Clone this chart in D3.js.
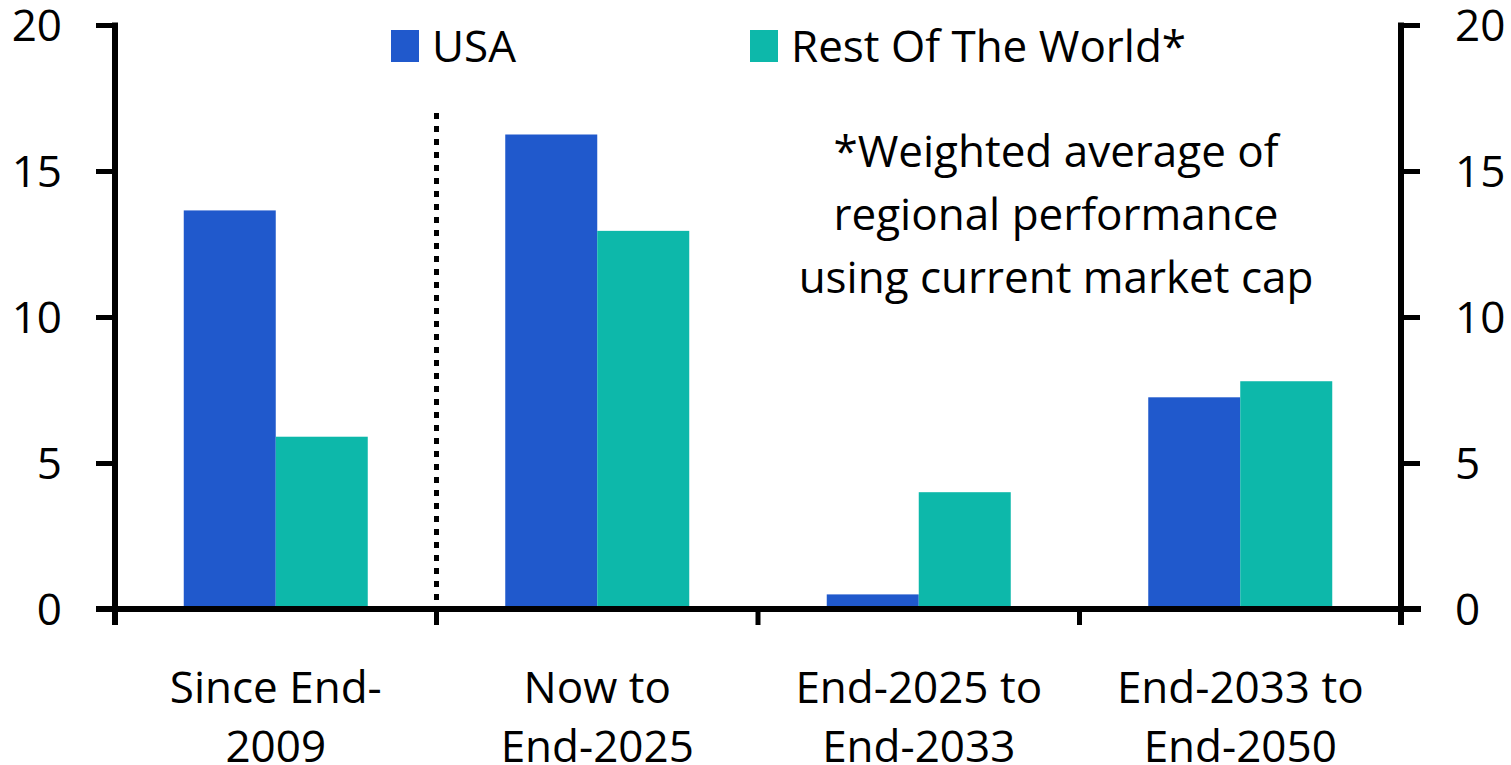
<!DOCTYPE html>
<html>
<head>
<meta charset="utf-8">
<script src="https://cdn.jsdelivr.net/npm/d3@7"></script>
<style>
  html, body { margin: 0; padding: 0; background: #fff; }
  svg { display: block; }
  text { font-family: "Open Sans", "Noto Sans", sans-serif; fill: #000; }
</style>
</head>
<body>
<svg id="chart" width="1511" height="765"></svg>
<script>
// Annualised returns by period, % per year
const categories = [
  ["Since End-", "2009"],
  ["Now to", "End-2025"],
  ["End-2025 to", "End-2033"],
  ["End-2033 to", "End-2050"]
];
const seriesNames = ["USA", "Rest Of The World*"];
const usaValues = [13.65, 16.25, 0.5, 7.25];
const rowValues = [5.9, 12.95, 4.0, 7.8];
const yTicks = [0, 5, 10, 15, 20];
const noteLines = ["*Weighted average of", "regional performance", "using current market cap"];

const colors = ["#2059CC", "#0DB8AA"];
const fontSize = 44;

const svg = d3.select("#chart");
const plotLeft = 115, plotRight = 1401, plotTop = 25, plotBottom = 609;

const x = d3.scaleBand().domain(d3.range(categories.length)).range([plotLeft, plotRight]).paddingInner(0).paddingOuter(0);
const y = d3.scaleLinear().domain([0, 20]).range([plotBottom, plotTop]);
const barW = 92;

const rows = categories.map((c, i) => ({ i, values: [usaValues[i], rowValues[i]] }));

// bars
const g = svg.append("g");
rows.forEach(r => {
  const cx = x(r.i) + x.bandwidth() / 2;
  r.values.forEach((v, k) => {
    g.append("rect")
      .attr("x", cx - barW + k * barW)
      .attr("y", y(v))
      .attr("width", barW)
      .attr("height", y(0) - y(v))
      .attr("fill", colors[k]);
  });
});

// dotted divider between history and projections
svg.append("line")
  .attr("x1", x(1)).attr("x2", x(1))
  .attr("y1", 113).attr("y2", y(0))
  .attr("stroke", "#000").attr("stroke-width", 5)
  .attr("stroke-dasharray", "6 7");

// left axis
const yAxisL = svg.append("g").attr("transform", `translate(${plotLeft},0)`)
  .call(d3.axisLeft(y).tickValues(yTicks).tickSize(19).tickPadding(0).tickFormat(d3.format("d")));
// right axis
const yAxisR = svg.append("g").attr("transform", `translate(${plotRight},0)`)
  .call(d3.axisRight(y).tickValues(yTicks).tickSize(19).tickPadding(0).tickFormat(d3.format("d")));

[yAxisL, yAxisR].forEach(ax => {
  ax.select(".domain").remove();
  ax.selectAll(".tick line").attr("stroke", "#000").attr("stroke-width", 5);
  ax.selectAll(".tick text").attr("font-size", fontSize).attr("fill", "#000")
    .attr("font-family", "\"Open Sans\", sans-serif").attr("dy", "0.35em");
});
yAxisL.selectAll(".tick text").attr("x", -53).attr("text-anchor", "end");
yAxisR.selectAll(".tick text").attr("x", 54).attr("text-anchor", "start");

// vertical axis lines
[plotLeft, plotRight].forEach(px => {
  svg.append("line").attr("x1", px).attr("x2", px).attr("y1", plotTop - 2.5).attr("y2", y(0) + 16)
    .attr("stroke", "#000").attr("stroke-width", 6);
});

// baseline with category ticks
svg.append("line").attr("x1", 96).attr("x2", 1421).attr("y1", y(0)).attr("y2", y(0))
  .attr("stroke", "#000").attr("stroke-width", 6);
d3.range(1, categories.length).forEach(i => {
  svg.append("line").attr("x1", x(i)).attr("x2", x(i)).attr("y1", y(0)).attr("y2", y(0) + 16)
    .attr("stroke", "#000").attr("stroke-width", 5);
});

// category labels
categories.forEach((lines, i) => {
  const cx = x(i) + x.bandwidth() / 2;
  const t = svg.append("text").attr("text-anchor", "middle").attr("font-size", fontSize);
  lines.forEach((ln, j) => {
    t.append("tspan").attr("x", cx).attr("y", 703 + j * 59).text(ln);
  });
});

// legend
const legendX = [391, 750];
seriesNames.forEach((name, k) => {
  svg.append("rect").attr("x", legendX[k]).attr("y", 30).attr("width", 28).attr("height", 32)
    .attr("fill", colors[k]);
  svg.append("text").attr("x", legendX[k] + 41).attr("y", 62).attr("font-size", fontSize).text(name);
});

// footnote
const note = svg.append("text").attr("text-anchor", "middle").attr("font-size", fontSize);
noteLines.forEach((ln, j) => {
  note.append("tspan").attr("x", 1056).attr("y", 167 + j * 63).text(ln);
});
</script>
</body>
</html>
